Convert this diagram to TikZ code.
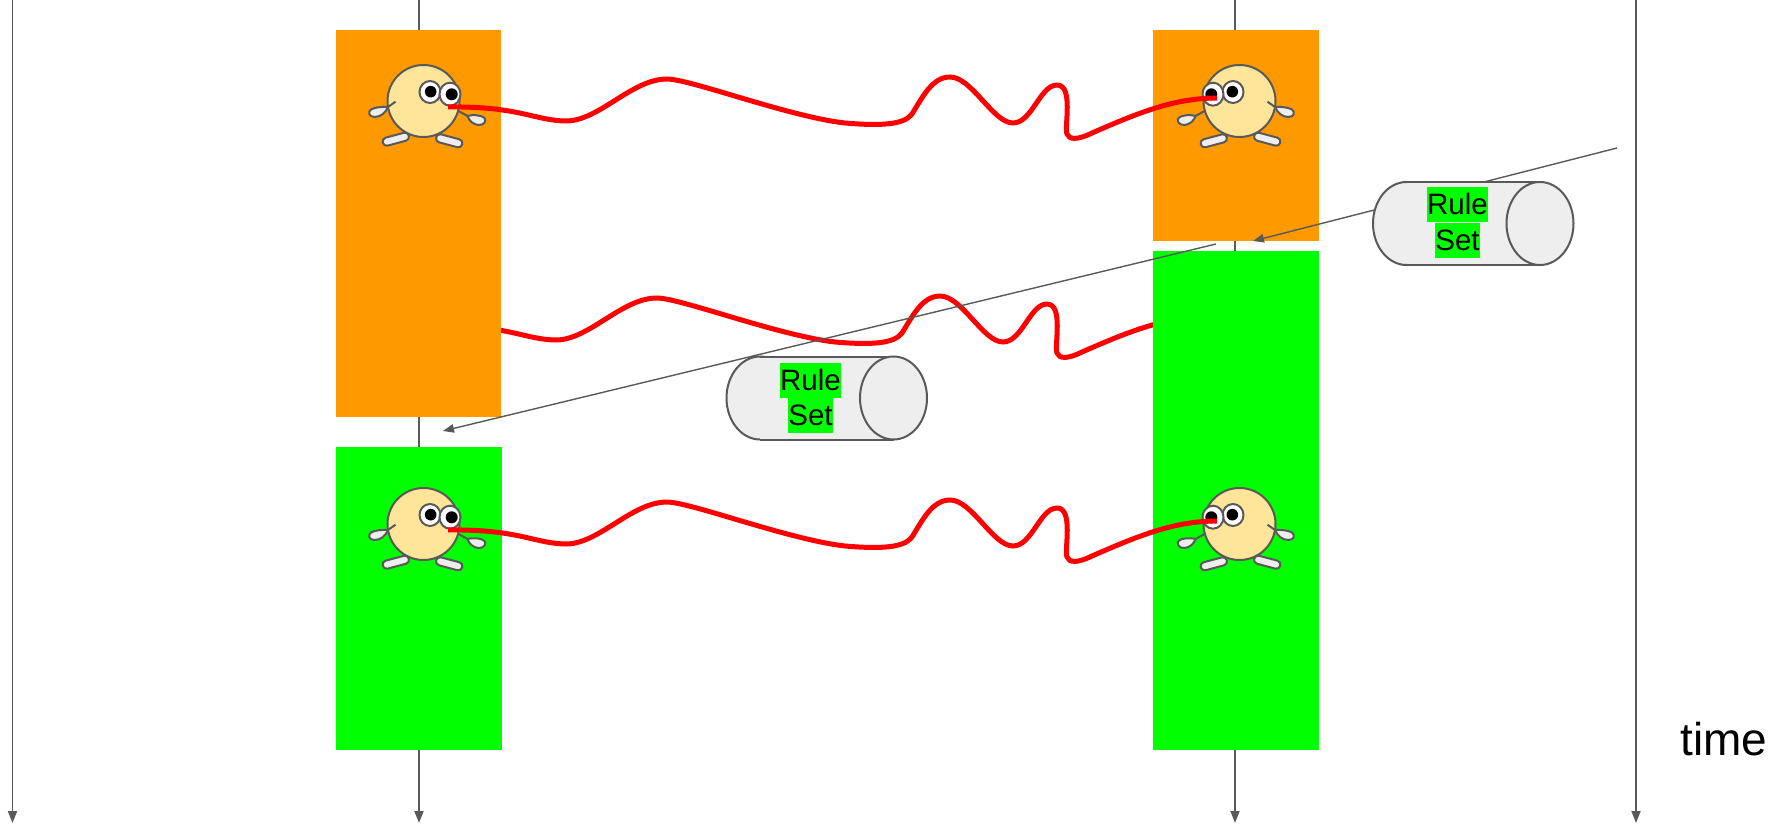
\documentclass[tikz,border=0pt]{standalone}
\usepackage{fontspec}
\setmainfont{Liberation Sans}
\usetikzlibrary{arrows.meta}

\definecolor{linegray}{HTML}{595959}
\definecolor{boxorange}{HTML}{FF9900}
\definecolor{boxgreen}{HTML}{00FF00}
\definecolor{skin}{HTML}{FFE599}
\definecolor{pale}{HTML}{EEEEEE}
\definecolor{wire}{HTML}{FF0000}

\tikzset{
  timeline/.style={draw=linegray, line width=1.8pt, -{Triangle[length=12pt,width=9pt]}},
  feed/.style={draw=linegray, line width=1.4pt, -{Triangle[length=11pt,width=8.5pt]}},
  outl/.style={draw=linegray, line width=2pt},
  wave/.style={draw=wire, line width=5pt},
  hl/.style={fill=boxgreen, inner xsep=0pt, inner ysep=0pt, text height=27.5pt,
             text depth=7.5pt, anchor=north, font=\fontsize{29.5}{35}\selectfont},
  % little creature, face centred on the origin
  critter/.pic={
    \draw[outl, fill=skin] (0,0) circle[radius=36];
    % arms
    \draw[outl, fill=pale] (-35.5,6) .. controls (-42,5.5) and (-49,6.5) .. (-52.5,8.5)
        .. controls (-56,11) and (-54.5,16) .. (-49,16)
        .. controls (-43,16) and (-38,12) .. (-35.5,6) -- cycle;
    \draw[outl] (-35.5,6) -- (-28,0.7);
    \draw[outl, fill=pale] (44,15) .. controls (49,13.5) and (57,14) .. (60.5,16.5)
        .. controls (63.5,19) and (61,24.5) .. (55,24)
        .. controls (50,23.5) and (45.5,20) .. (44,15) -- cycle;
    \draw[outl] (44,15) -- (35,10);
    % feet
    \draw[outl, fill=pale, rounded corners=4pt, rotate around={15:(-27.7,38.2)}]
        (-41.2,34.1) rectangle (-14.2,42.3);
    \draw[outl, fill=pale, rounded corners=4pt, rotate around={-15:(25.7,39.8)}]
        (12.2,35.7) rectangle (39.2,43.9);
    % eyes
    \draw[outl, fill=white] (6.5,-9) ellipse[x radius=10.5, y radius=11];
    \fill[black] (7.2,-9.3) circle[radius=5.8];
    \draw[outl, fill=white] (26.5,-6.8) ellipse[x radius=10.5, y radius=11.5];
    \fill[black] (28.2,-6.7) circle[radius=6];
  },
  % wavy red link between two creatures
  squiggle/.pic={
    \draw[wave] (448,107) .. controls (520,106) and (535,121) .. (567,121)
      .. controls (600,120) and (632,79) .. (667,79)
      .. controls (690,79) and (790,117) .. (845,123)
      .. controls (880,126) and (904,125) .. (912,114)
      .. controls (922,98) and (932,77) .. (950,77)
      .. controls (972,77) and (993,123) .. (1013,123)
      .. controls (1032,123) and (1040,85) .. (1057,85)
      .. controls (1074,85) and (1064,128) .. (1067,134)
      .. controls (1069,140) and (1078,140) .. (1092,133)
      .. controls (1140,112) and (1175,98) .. (1217,98);
  },
  % horizontal drum, origin at the centre of its left end
  drum/.pic={
    \draw[outl, fill=pale] (0,0) ellipse[x radius=33.5, y radius=41.5];
    \fill[pale] (0,-41.5) rectangle (133.5,41.5);
    \draw[outl] (0,-41.5) -- (133.5,-41.5);
    \draw[outl] (0,41.5) -- (133.5,41.5);
    \draw[outl, fill=pale] (133.5,0) ellipse[x radius=33.5, y radius=41.5];
  }
}

\begin{document}
\begin{tikzpicture}[x=1pt, y=-1pt]
\useasboundingbox (0,0) rectangle (1781,824);

% time axes
\coordinate (t1a) at (12.5,0);   \coordinate (t1b) at (12.5,823);
\coordinate (t2a) at (419,0);    \coordinate (t2b) at (419,823);
\coordinate (t3a) at (1235,0);   \coordinate (t3b) at (1235,823);
\coordinate (t4a) at (1636,0);   \coordinate (t4b) at (1636,823);
\draw[timeline] (t1a) -- (t1b);
\draw[timeline] (t2a) -- (t2b);
\draw[timeline] (t3a) -- (t3b);
\draw[timeline] (t4a) -- (t4b);

% link running between the phases
\pic at (-10,219) {squiggle};

% phases
\fill[boxorange] (336,30) rectangle (501,417);
\fill[boxgreen]  (336,447) rectangle (502,750);
\fill[boxorange] (1153,30) rectangle (1319,241);
\fill[boxgreen]  (1153,251) rectangle (1319,750);

% creatures, the right-hand ones mirrored
\pic at (423.5,101) {critter};
\pic at (423.5,524) {critter};
\pic[xscale=-1] at (1239.5,101) {critter};
\pic[xscale=-1] at (1239.5,524) {critter};

% links
\pic at (0,0) {squiggle};
\pic at (0,423) {squiggle};

% rule set hand-over arrows
\coordinate (a1s) at (1617,148);
\coordinate (a1e) at (1253,241);
\coordinate (a2s) at (1216,244);
\coordinate (a2e) at (443,431);
\draw[feed] (a1s) -- (a1e);
\draw[feed] (a2s) -- (a2e);

% rule sets
\pic at (1406.5,223.5) {drum};
\node[hl] (rsRa) at (1457.5,187) {Rule};
\node[hl] (rsRb) at (1457.5,222.5) {Set};

\pic at (760,398) {drum};
\node[hl] (rsLa) at (810.5,363) {Rule};
\node[hl] (rsLb) at (810.5,397.5) {Set};

% axis label
\node[anchor=base west, inner sep=0pt, font=\fontsize{46}{55}\selectfont] (timelbl) at (1680,755) {time};
\end{tikzpicture}
\end{document}
